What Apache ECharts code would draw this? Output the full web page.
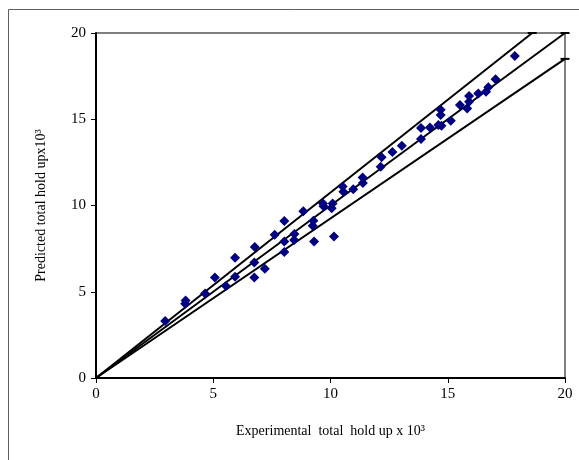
<!DOCTYPE html>
<html>
<head>
<meta charset="utf-8">
<script src="https://cdn.jsdelivr.net/npm/echarts@6/dist/echarts.min.js"></script>
<style>
  html, body { margin: 0; padding: 0; background: #fff; }
  #chart { width: 579px; height: 460px; }
</style>
</head>
<body>
<div id="chart"></div>
<script>
// experimental vs predicted total hold up (x 10^3)
const experimental = [
    2.95, 3.8, 3.82, 4.65, 5.07, 5.54, 5.93, 5.93, 6.77, 6.75,
    6.75, 7.2, 7.62, 8.03, 8.03, 8.03, 8.46, 8.45, 8.84, 9.27,
    9.24, 9.3, 9.68, 9.7, 10.09, 10.05, 10.15, 10.52, 10.55, 10.97,
    11.37, 11.38, 12.18, 12.14, 12.64, 13.04, 13.86, 13.86, 14.24, 14.6,
    14.73, 14.7, 14.7, 15.13, 15.52, 15.83, 15.91, 15.91, 16.3, 16.63,
    16.73, 17.04, 17.86
];
const predicted = [
    3.3, 4.3, 4.5, 4.9, 5.82, 5.33, 6.97, 5.87, 7.6, 6.7,
    5.82, 6.34, 8.3, 9.1, 7.92, 7.3, 8.35, 8.0, 9.67, 9.12,
    8.82, 7.92, 10.12, 9.95, 10.12, 9.84, 8.2, 11.1, 10.8, 10.94,
    11.63, 11.3, 12.8, 12.25, 13.1, 13.47, 14.5, 13.86, 14.52, 14.67,
    14.62, 15.55, 15.25, 14.92, 15.83, 15.63, 16.35, 16.02, 16.5, 16.6,
    16.85, 17.32, 18.67
];

// reference lines: parity and the +/- band
const parityLine = [[0, 0], [20, 20]];
const upperLine = [[0, 0], [18.6, 20]];
const lowerLine = [[0, 0], [20, 18.5]];

const axisTicks = [0, 5, 10, 15, 20];

const chart = echarts.init(document.getElementById('chart'));
const serif = '"Liberation Serif", "Times New Roman", serif';

function refLine(points) {
    return {
        type: 'line',
        data: points.map((p, i) => ({
            value: p,
            symbol: i === points.length - 1 ? 'rect' : 'none',
            symbolSize: [9, 2]
        })),
        lineStyle: { color: '#000', width: 2 },
        itemStyle: { color: '#000' },
        animation: false,
        z: 3
    };
}

const option = {
    backgroundColor: '#fff',
    animation: false,
    graphic: [{
        type: 'rect',
        shape: { x: 8.5, y: 9.5, width: 620, height: 520 },
        style: { fill: 'none', stroke: '#606060', lineWidth: 1 },
        silent: true
    }],
    grid: {
        left: 96, top: 33, right: 14, bottom: 82,
        show: true, borderColor: '#000', borderWidth: 1
    },
    xAxis: {
        type: 'value',
        min: axisTicks[0],
        max: axisTicks[axisTicks.length - 1],
        interval: 5,
        name: 'Experimental  total  hold up x 10³',
        nameLocation: 'middle',
        nameGap: 46,
        nameTextStyle: { fontFamily: serif, fontSize: 14, color: '#000' },
        axisLine: { lineStyle: { color: '#000', width: 2 } },
        axisTick: { show: true, length: 5, lineStyle: { color: '#000' } },
        axisLabel: { fontFamily: serif, fontSize: 15, color: '#000', margin: 9 },
        splitLine: { show: false }
    },
    yAxis: {
        type: 'value',
        min: axisTicks[0],
        max: axisTicks[axisTicks.length - 1],
        interval: 5,
        name: 'Predicted total hold upx10³',
        nameLocation: 'middle',
        nameGap: 48,
        nameTextStyle: { fontFamily: serif, fontSize: 14, color: '#000' },
        axisLine: { lineStyle: { color: '#000', width: 2 } },
        axisTick: { show: true, length: 5, lineStyle: { color: '#000' } },
        axisLabel: { fontFamily: serif, fontSize: 15, color: '#000', margin: 10 },
        splitLine: { show: false }
    },
    series: [
        refLine(parityLine),
        refLine(upperLine),
        refLine(lowerLine),
        {
            type: 'scatter',
            data: experimental.map((x, i) => [x, predicted[i]]),
            symbol: 'diamond',
            symbolSize: 10,
            itemStyle: { color: '#000080', opacity: 1 },
            z: 4
        }
    ]
};

chart.setOption(option);
</script>
</body>
</html>
